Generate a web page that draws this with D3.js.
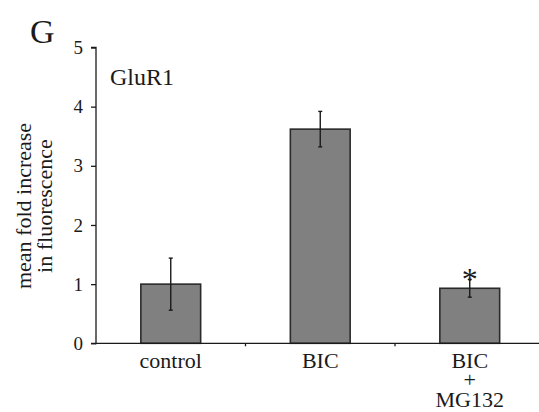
<!DOCTYPE html>
<html>
<head>
<meta charset="utf-8">
<script src="https://cdn.jsdelivr.net/npm/d3@7"></script>
<style>
  body { margin: 0; background: #fff; }
  svg text { font-family: "Liberation Serif", "DejaVu Serif", "Times New Roman", serif; }
</style>
</head>
<body>
<svg id="chart" width="539" height="412"></svg>
<script>
const categories = ["control", "BIC", "BIC+MG132"];
const labelLines = [["control"], ["BIC"], ["BIC", "+", "MG132"]];
const means = [1.0, 3.62, 0.93];
const errors = [0.44, 0.30, 0.15];
const significant = [false, false, true];
const yTicks = [0, 1, 2, 3, 4, 5];

const svg = d3.select("#chart");
const ink = "#1a1a1a";
const serif = "'Liberation Serif', 'DejaVu Serif', serif";

const x = d3.scaleBand().domain(categories).range([96, 544.5]).padding(0);
const y = d3.scaleLinear().domain([0, 5]).range([343.3, 47.5]);
const barW = x.bandwidth() * 0.4;

// bars
svg.selectAll(".bar")
    .data(categories)
    .enter().append("rect")
    .attr("class", "bar")
    .attr("x", (d, i) => x(d) + x.bandwidth() / 2 - barW / 2)
    .attr("y", (d, i) => y(means[i]))
    .attr("width", barW)
    .attr("height", (d, i) => y(0) - y(means[i]))
    .attr("fill", "#808080")
    .attr("stroke", "#2a2a2a")
    .attr("stroke-width", 1.6);

// error bars
const err = svg.selectAll(".err")
    .data(categories)
    .enter().append("g")
    .attr("class", "err")
    .attr("transform", d => `translate(${x(d) + x.bandwidth() / 2},0)`);

err.append("line")
    .attr("y1", (d, i) => y(means[i] + errors[i]))
    .attr("y2", (d, i) => y(means[i] - errors[i]))
    .attr("stroke", ink)
    .attr("stroke-width", 1.4);

err.append("line")
    .attr("x1", -2).attr("x2", 2)
    .attr("y1", (d, i) => y(means[i] + errors[i]))
    .attr("y2", (d, i) => y(means[i] + errors[i]))
    .attr("stroke", ink).attr("stroke-width", 1.4);

err.append("line")
    .attr("x1", -2).attr("x2", 2)
    .attr("y1", (d, i) => y(means[i] - errors[i]))
    .attr("y2", (d, i) => y(means[i] - errors[i]))
    .attr("stroke", ink).attr("stroke-width", 1.4);

// significance marker
err.filter((d, i) => significant[i])
    .append("text")
    .attr("y", d => y(means[categories.indexOf(d)] + errors[categories.indexOf(d)]) + 11)
    .attr("text-anchor", "middle")
    .attr("font-family", serif)
    .attr("font-size", 32)
    .attr("fill", ink)
    .text("*");

// y axis
const yAxis = svg.append("g")
    .attr("transform", "translate(96,0)")
    .call(d3.axisLeft(y).tickValues(yTicks).tickFormat(d3.format("d")).tickSize(5).tickPadding(8));
yAxis.attr("font-family", serif);
yAxis.select(".domain").attr("stroke", ink).attr("stroke-width", 1.3).attr("d", `M-5,${y(5)}H0V${y(0) + 1}`);
yAxis.selectAll(".tick line").attr("stroke", ink).attr("stroke-width", 1.3);
yAxis.selectAll(".tick text")
    .attr("font-family", serif)
    .attr("font-size", 19)
    .attr("fill", ink);

// x axis line and boundary ticks
svg.append("line")
    .attr("x1", 91).attr("x2", 539)
    .attr("y1", y(0)).attr("y2", y(0))
    .attr("stroke", ink).attr("stroke-width", 1.3);

svg.selectAll(".xtick")
    .data(categories.slice(0, -1))
    .enter().append("line")
    .attr("x1", d => x(d) + x.bandwidth())
    .attr("x2", d => x(d) + x.bandwidth())
    .attr("y1", y(0)).attr("y2", y(0) + 3)
    .attr("stroke", ink).attr("stroke-width", 1.3);

// category labels
const xl = svg.selectAll(".xlabel")
    .data(categories)
    .enter().append("text")
    .attr("class", "xlabel")
    .attr("text-anchor", "middle")
    .attr("font-family", serif)
    .attr("font-size", 22)
    .attr("fill", ink)
    .attr("transform", d => `translate(${x(d) + x.bandwidth() / 2},368)`);

xl.selectAll("tspan")
    .data((d, i) => labelLines[i])
    .enter().append("tspan")
    .attr("x", 0)
    .attr("y", (d, j) => j * 19.3)
    .text(d => d);

// y label
const yl = svg.append("text")
    .attr("transform", "translate(0,206) rotate(-90)")
    .attr("text-anchor", "middle")
    .attr("font-family", serif)
    .attr("font-size", 22)
    .attr("fill", ink);
yl.append("tspan").attr("x", 0).attr("y", 31).text("mean fold increase");
yl.append("tspan").attr("x", 0).attr("y", 52).text("in fluorescence");

// panel letter and title
svg.append("text")
    .attr("x", 30).attr("y", 43)
    .attr("font-family", serif)
    .attr("font-size", 34)
    .attr("fill", ink)
    .text("G");

svg.append("text")
    .attr("x", 110).attr("y", 85)
    .attr("font-family", serif)
    .attr("font-size", 24)
    .attr("fill", ink)
    .text("GluR1");
</script>
</body>
</html>
